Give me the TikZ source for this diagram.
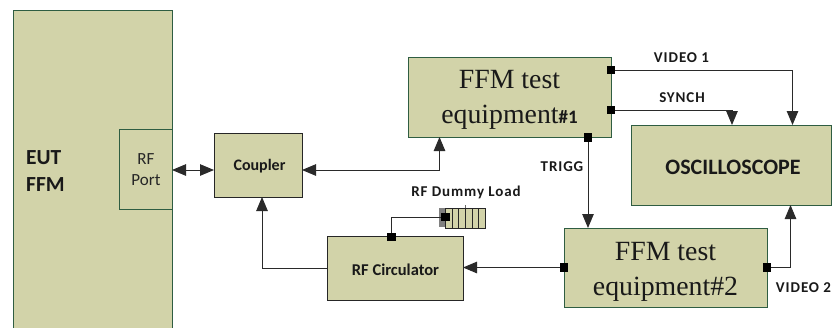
\documentclass[tikz,border=0pt]{standalone}
\usepackage{fontspec}
\setmainfont{Liberation Serif}
\newfontfamily\carl{Carlito}[BoldFont=Carlito Bold]
\newfontfamily\carlsp{Carlito Bold}[LetterSpace=6]
\usetikzlibrary{arrows.meta,calc}
\definecolor{boxfill}{HTML}{D2D3A9}
\definecolor{boxline}{HTML}{2F5D42}
\definecolor{wire}{HTML}{2A2A2A}
\tikzset{
  block/.style={draw=boxline,fill=boxfill,line width=1pt,inner sep=0pt,anchor=north west},
  darkblock/.style={block,draw=black!85},
  term/.style={fill=black,inner sep=0pt,minimum size=8.5pt},
  wirepath/.style={draw=wire,line width=1pt,-{Triangle[length=14pt,width=11.5pt]}},
  wireplain/.style={draw=wire,line width=1pt},
  both/.style={draw=wire,line width=1pt,{Triangle[length=14pt,width=11.5pt]}-{Triangle[length=14pt,width=11.5pt]}},
  serif/.style={font=\fontsize{27.8}{35}\selectfont,align=center,text=black!90},
  lab/.style={font=\fontsize{15}{17}\carlsp,text=black!90},
  biglab/.style={text=black!90},
}
\begin{document}
\begin{tikzpicture}[x=1pt,y=-1pt]
\useasboundingbox (0,0) rectangle (835,327);
\begin{scope}
\clip (0,0) rectangle (835,327);
\node[block,minimum width=159pt,minimum height=340pt] (eut) at (13,10) {};
\end{scope}
\node[block,minimum width=53pt,minimum height=80pt] (port) at (119,129) {};
\node[font=\fontsize{17}{21}\carl,align=center,text=black!85] (porttxt) at (146,170) {RF\\Port};
\node[font=\fontsize{21.5}{27}\carl\bfseries,align=left,anchor=west,inner sep=0pt,text=black!90] (euttxt) at (26,171.5) {EUT\\FFM};
\node[darkblock,minimum width=88pt,minimum height=64pt] (coupler) at (214,133) {};
\node[biglab,font=\fontsize{16}{18}\carl\bfseries] (couplertxt) at (259.5,166.5) {Coupler};
\node[block,minimum width=203pt,minimum height=80pt] (ffm1) at (408,57) {};
\node[serif] (ffm1txt) at (509.5,100) {FFM test\\equipment{\fontsize{19}{19}\carl\bfseries\#1}};
\node[block,minimum width=200pt,minimum height=80pt] (osc) at (631,125) {};
\node[biglab,font=\fontsize{22}{24}\carl\bfseries] (osctxt) at (733,167) {OSCILLOSCOPE};
\node[block,minimum width=203pt,minimum height=79pt] (ffm2) at (564,228) {};
\node[serif] (ffm2txt) at (665.5,271.5) {FFM test\\equipment\#2};
\node[darkblock,minimum width=136pt,minimum height=64pt] (circ) at (327,236) {};
\node[biglab,font=\fontsize{16.5}{18}\carl\bfseries] (circtxt) at (395.5,270) {RF Circulator};
% dummy load
\fill[black!50] (439,208) rectangle (446,227);
\node[block,draw=black!85,minimum width=40pt,minimum height=19.5pt] (dummy) at (445,208) {};
\foreach \xx in {452,458.5,465,472,478.5} \draw[black!85,line width=0.9pt] (\xx,208) -- (\xx,228);
\draw[black!60,line width=0.6pt] (465,205) -- (465,208);
% terminals
\node[term] (v1) at (611,70) {};
\node[term] (sy) at (611,110) {};
\node[term] (tr) at (588,137.5) {};
\node[term] (f2l) at (564,267.5) {};
\node[term] (f2r) at (767,267.5) {};
\node[term] (ctop) at (391.5,237) {};
\node[term] (dl) at (445.5,217) {};
% connector ends on blocks
\coordinate (oscv) at (792.5,125);
\coordinate (oscs) at (732,125);
\coordinate (oscb) at (790.5,205);
\coordinate (f2top) at (588,228);
\coordinate (circr) at (463,267.5);
\coordinate (cplr) at (302,170);
\coordinate (cpll) at (214,170);
\coordinate (prtr) at (172,170);
\coordinate (f1b) at (439.5,137);
\coordinate (circl) at (327,268);
\coordinate (cplb) at (262,197);
% connectors
\draw[wirepath] (v1) -| (oscv);
\draw[wirepath] (sy) -| (oscs);
\draw[wirepath] (tr) -- (f2top);
\draw[wirepath] (f2l) -- (circr);
\draw[wirepath] (f2r) -| (oscb);
\draw[both] (prtr) -- (cpll);
\draw[both] (cplr) -| (f1b);
\draw[wirepath] (circl) -| (cplb);
\draw[wireplain] (ctop) |- (dl);
% labels
\node[lab] (lv1) at (681.5,58) {VIDEO 1};
\node[lab] (lsy) at (682,98) {SYNCH};
\node[lab] (ltr) at (562,166.5) {TRIGG};
\node[lab] (lv2) at (803.5,288) {VIDEO 2};
\node[lab] (lrf) at (466,192.5) {RF Dummy Load};
\end{tikzpicture}
\end{document}
